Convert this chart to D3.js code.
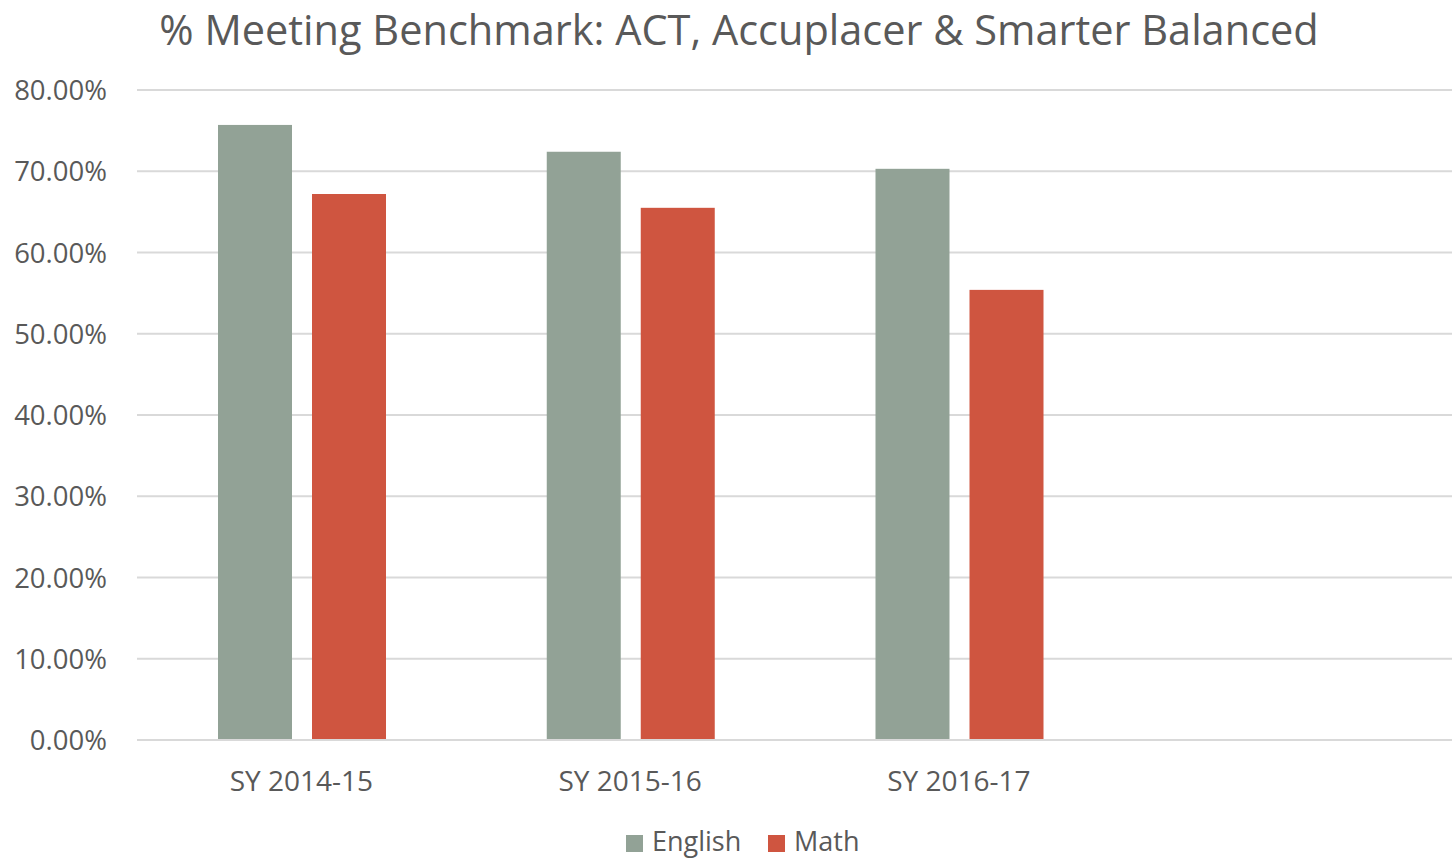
<!DOCTYPE html>
<html>
<head>
<meta charset="utf-8">
<script src="https://cdn.jsdelivr.net/npm/d3@7"></script>
<style>
  body { margin: 0; background: #fff; }
  svg { display: block; font-family: "Open Sans", "Noto Sans", sans-serif; }
</style>
</head>
<body>
<svg id="chart" width="1452" height="858"></svg>
<script>
const categories = ["SY 2014-15", "SY 2015-16", "SY 2016-17", ""];
const seriesNames = ["English", "Math"];
const english = [0.757, 0.724, 0.703, null];
const math = [0.672, 0.655, 0.554, null];
const yTicks = [0, 0.1, 0.2, 0.3, 0.4, 0.5, 0.6, 0.7, 0.8];
const title = "% Meeting Benchmark: ACT, Accuplacer & Smarter Balanced";

const colors = { English: "#92a296", Math: "#cf5540" };
const textColor = "#595959";

const svg = d3.select("#chart");
const plotLeft = 137, plotRight = 1452, plotTop = 90, plotBottom = 740;

const x = d3.scaleBand().domain(categories.map((c, i) => i)).range([plotLeft, plotRight]).paddingInner(0).paddingOuter(0);
const xs = d3.scaleBand().domain(seriesNames).range([81, 81 + 168]).paddingInner(20 / 94).paddingOuter(0);
const y = d3.scaleLinear().domain([0, 0.8]).range([plotBottom, plotTop]);

// gridlines
svg.append("g").selectAll("line").data(yTicks).join("line")
  .attr("x1", plotLeft).attr("x2", plotRight)
  .attr("y1", d => y(d)).attr("y2", d => y(d))
  .attr("stroke", "#d9d9d9").attr("stroke-width", 2);

// y axis labels
const yAxis = d3.axisLeft(y).tickValues(yTicks).tickFormat(d3.format(".2%")).tickSize(0).tickPadding(0);
const ya = svg.append("g").attr("transform", `translate(107,0)`).call(yAxis);
ya.select(".domain").remove();
ya.selectAll("text").attr("fill", textColor).style("font-size", "27.5px").attr("dy", "0.35em").style("font-family", "'Open Sans', sans-serif");

// bars
const data = [];
categories.forEach((c, i) => {
  if (english[i] != null) data.push({ i, s: "English", v: english[i] });
  if (math[i] != null) data.push({ i, s: "Math", v: math[i] });
});
svg.append("g").selectAll("rect").data(data).join("rect")
  .attr("x", d => x(d.i) + xs(d.s))
  .attr("width", xs.bandwidth())
  .attr("y", d => y(d.v))
  .attr("height", d => y(0) - y(d.v))
  .attr("fill", d => colors[d.s]);

// baseline
svg.append("line").attr("x1", plotLeft).attr("x2", plotRight).attr("y1", y(0)).attr("y2", y(0))
  .attr("stroke", "#d9d9d9").attr("stroke-width", 2);

// x axis labels
const xAxis = d3.axisBottom(x).tickFormat(i => categories[i]).tickSize(0).tickPadding(0);
const xa = svg.append("g").attr("transform", `translate(0,${plotBottom})`).call(xAxis);
xa.select(".domain").remove();
xa.selectAll("text").attr("fill", textColor).style("font-size", "28px").attr("y", 51).attr("dy", 0).style("font-family", "'Open Sans', sans-serif");

// title
svg.append("text").attr("x", 739).attr("y", 45).attr("text-anchor", "middle")
  .attr("fill", textColor).style("font-size", "41.5px").text(title);

// legend
const legend = svg.append("g");
const legendItems = [{ s: "English", x: 626 }, { s: "Math", x: 768 }];
legendItems.forEach(it => {
  legend.append("rect").attr("x", it.x).attr("y", 835).attr("width", 17).attr("height", 17).attr("fill", colors[it.s]);
  legend.append("text").attr("x", it.x + 26).attr("y", 851).attr("fill", textColor).style("font-size", "27px").text(it.s);
});
</script>
</body>
</html>
